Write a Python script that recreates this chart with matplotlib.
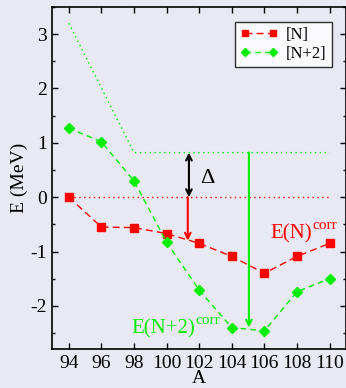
import matplotlib
matplotlib.use("Agg")
import matplotlib.pyplot as plt
from matplotlib.ticker import MultipleLocator

plt.rcParams['font.family'] = ['Liberation Serif', 'DejaVu Serif']
plt.rcParams['axes.unicode_minus'] = False

# Mass numbers and correlation energies (MeV)
A = [94, 96, 98, 100, 102, 104, 106, 108, 110]
E_N = [0.0, -0.55, -0.56, -0.67, -0.85, -1.09, -1.40, -1.09, -0.85]
E_N2 = [1.27, 1.02, 0.30, -0.83, -1.71, -2.40, -2.46, -1.74, -1.50]

# Reference levels (dotted guides)
guide_N2_x = [94, 98, 110]
guide_N2_y = [3.2, 0.82, 0.82]
guide_N_x = [94, 110]
guide_N_y = [0.0, 0.0]

# Arrow positions
delta_x = 101.37
red_arrow_x = 101.3
red_arrow_end = -0.80
green_arrow_x = 105.05
green_arrow_end = -2.40
top_level = 0.82

bg = '#e9e9f3'
red = '#ff0000'
green = '#00ee00'

fig = plt.figure(figsize=(3.46, 3.88), dpi=100, facecolor=bg)
ax = fig.add_axes([0.1517, 0.0997, 0.848, 0.8823], facecolor=bg)

ax.plot(guide_N2_x, guide_N2_y, color=green, lw=1.0, ls=(0, (1, 2.5)))
ax.plot(guide_N_x, guide_N_y, color=red, lw=1.0, ls=(0, (1, 2.5)))

ax.plot(A, E_N, color=red, lw=1.0, ls=(0, (5, 3)), marker='s', ms=6,
        mec=red, mfc=red, label='[N]')
ax.plot(A, E_N2, color=green, lw=1.0, ls=(0, (4, 3)), marker='D', ms=5,
        mec=green, mfc=green, label='[N+2]')

ax.annotate('', xy=(delta_x, 0.0), xytext=(delta_x, top_level),
            arrowprops=dict(arrowstyle='<->', color='black', lw=1.5,
                            shrinkA=0, shrinkB=0))
ax.annotate('', xy=(red_arrow_x, red_arrow_end), xytext=(red_arrow_x, 0.0),
            arrowprops=dict(arrowstyle='->', color=red, lw=1.5,
                            shrinkA=0, shrinkB=0))
ax.annotate('', xy=(green_arrow_x, green_arrow_end), xytext=(green_arrow_x, top_level),
            arrowprops=dict(arrowstyle='->', color=green, lw=1.5,
                            shrinkA=0, shrinkB=0))

ax.text(102.08, 0.35, '\u0394', fontsize=16, va='center', ha='left')


def corr_label(x, y, main, color):
    t = ax.text(x, y, main, color=color, fontsize=15, ha='left', va='baseline')
    ax.annotate('corr', xy=(1.0, 1.0), xycoords=t, xytext=(0.5, -3.5),
                textcoords='offset points', color=color, fontsize=11,
                ha='left', va='baseline')


corr_label(106.35, -0.76, 'E(N)', red)
corr_label(97.84, -2.51, 'E(N+2)', green)

ax.set_xlim(93, 111)
ax.set_ylim(-2.8, 3.5)
ax.set_xticks(A)
ax.set_yticks([-2, -1, 0, 1, 2, 3])
ax.yaxis.set_minor_locator(MultipleLocator(0.5))
ax.tick_params(which='both', direction='in', top=True, right=True,
               labelsize=14, pad=4)
ax.tick_params(which='major', length=4, width=1)
ax.tick_params(which='minor', length=2, width=1)
ax.tick_params(axis='x', which='minor', bottom=False, top=False)
for s in ax.spines.values():
    s.set_linewidth(1.2)

ax.set_xlabel('A', fontsize=14, labelpad=-1)
ax.set_ylabel('E (MeV)', fontsize=14, labelpad=2)

leg = ax.legend(loc='upper right', bbox_to_anchor=(0.952, 0.957), fontsize=12,
                frameon=True, fancybox=False, edgecolor='black', numpoints=2,
                markerscale=0.8, handlelength=2.3, handletextpad=0.5,
                borderpad=0.3, labelspacing=0.2, borderaxespad=0)
leg.get_frame().set_linewidth(1.0)
leg.get_frame().set_facecolor('white')

fig.savefig('out.png', dpi=100, facecolor=bg)
